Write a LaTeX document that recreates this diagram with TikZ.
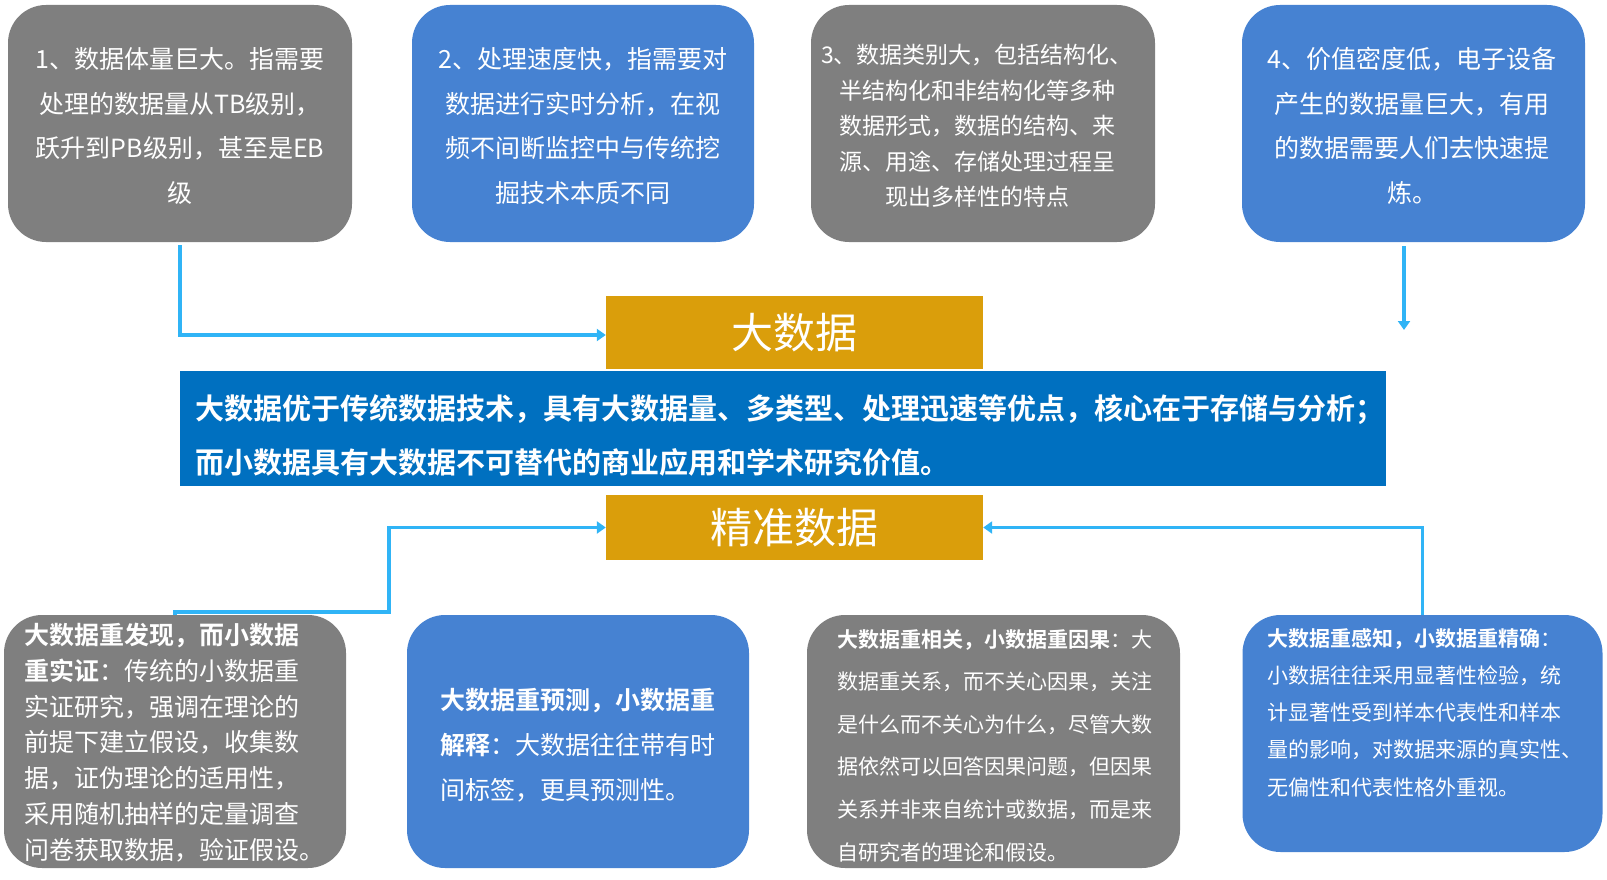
\documentclass[tikz,border=0pt]{standalone}
\usepackage{fontspec}
\setmainfont{Noto Sans CJK SC}[BoldFont={Noto Sans CJK SC Bold}]
\usetikzlibrary{arrows.meta,calc}
\definecolor{boxgray}{HTML}{7F7F7F}
\definecolor{boxblue}{HTML}{4682D2}
\definecolor{bannerblue}{HTML}{0070C0}
\definecolor{gold}{HTML}{DA9E0B}
\definecolor{arrowc}{HTML}{30B4F6}
\tikzset{
  card/.style={rounded corners=38pt, inner sep=0pt, minimum width=#1},
  graycard/.style={card=#1, fill=boxgray},
  bluecard/.style={card=#1, fill=boxblue},
  goldbox/.style={fill=gold, inner sep=0pt, minimum width=377pt, text=white, font=\fontsize{42}{50}\selectfont},
  txt/.style={text=white, inner sep=0pt},
  arr/.style={draw=arrowc, line width=3.5pt, -{Triangle[length=9pt,width=12pt]}},
}
\begin{document}
\begin{tikzpicture}[x=1pt,y=-1pt]
\useasboundingbox (0,0) rectangle (1607,880);
% top boxes
\node[graycard=344pt, minimum height=237pt] (b1) at (180,123.5) {};
\node[bluecard=342pt, minimum height=237pt] (b2) at (583,123.5) {};
\node[graycard=344pt, minimum height=237pt] (b3) at (983,123.5) {};
\node[bluecard=343pt, minimum height=237pt] (b4) at (1413.5,123.5) {};
% bottom boxes
\node[graycard=342pt, minimum height=253pt] (b5) at (175,741.5) {};
\node[bluecard=342pt, minimum height=253pt] (b6) at (578,741.5) {};
\node[graycard=373pt, minimum height=253pt] (b7) at (993.5,741.5) {};
\node[bluecard=360pt, minimum height=237pt] (b8) at (1422.5,733.5) {};
% middle
\node[goldbox, minimum height=73pt] (big) at (794.5,332.5) {大数据};
\node[fill=bannerblue, inner sep=0pt, minimum width=1206pt, minimum height=115pt] (ban) at (783,428.5) {};
\node[goldbox, minimum height=65pt] (prec) at (794.5,527.5) {精准数据};
% texts
\node[txt, font=\fontsize{25}{44.7}\selectfont, align=center] (t1) at (180,126)
  {1、数据体量巨大。指需要\\处理的数据量从TB级别，\\跃升到PB级别，甚至是EB\\级};
\node[txt, font=\fontsize{25}{44.7}\selectfont, align=center] (t2) at (583,126)
  {2、处理速度快，指需要对\\数据进行实时分析，在视\\频不间断监控中与传统挖\\掘技术本质不同};
\node[txt, font=\fontsize{23}{35.5}\selectfont, align=center] (t3) at (977,126)
  {3、数据类别大，包括结构化、\\半结构化和非结构化等多种\\数据形式，数据的结构、来\\源、用途、存储处理过程呈\\现出多样性的特点};
\node[txt, font=\fontsize{25}{44.7}\selectfont, align=center] (t4) at (1412,126)
  {4、价值密度低，电子设备\\产生的数据量巨大，有用\\的数据需要人们去快速提\\炼。};
\node[txt, font=\fontsize{29}{54}\selectfont\bfseries, align=left, anchor=west] (tb) at (195,435)
  {大数据优于传统数据技术，具有大数据量、多类型、处理迅速等优点，核心在于存储与分析；\\而小数据具有大数据不可替代的商业应用和学术研究价值。};
\node[txt, font=\fontsize{25}{35.8}\selectfont, align=left, anchor=west] (t5) at (24.5,742.5)
  {\textbf{大数据重发现，而小数据}\\\textbf{重实证}：传统的小数据重\\实证研究，强调在理论的\\前提下建立假设，收集数\\据，证伪理论的适用性，\\采用随机抽样的定量调查\\问卷获取数据，验证假设。};
\node[txt, font=\fontsize{25}{45}\selectfont, align=left, anchor=west] (t6) at (440,745)
  {\textbf{大数据重预测，小数据重}\\\textbf{解释}：大数据往往带有时\\间标签，更具预测性。};
\node[txt, font=\fontsize{21}{42.6}\selectfont, align=left, anchor=west] (t7) at (837,745.5)
  {\textbf{大数据重相关，小数据重因果}：大\\数据重关系，而不关心因果，关注\\是什么而不关心为什么，尽管大数\\据依然可以回答因果问题，但因果\\关系并非来自统计或数据，而是来\\自研究者的理论和假设。};
\node[txt, font=\fontsize{21}{37.2}\selectfont, align=left, anchor=west] (t8) at (1267,712.5)
  {\textbf{大数据重感知，小数据重精确}：\\小数据往往采用显著性检验，统\\计显著性受到样本代表性和样本\\量的影响，对数据来源的真实性、\\无偏性和代表性格外重视。};
% connectors
\coordinate (a4) at (1404,330);
\coordinate (k5) at (389,612);
\draw[arr, shorten <=3pt] (b1.south) |- ($(big.west)+(0,2.5)$);
\draw[arr, shorten <=4pt] (b4.south -| a4) -- (a4);
\draw[arr] (b5.north) -- (b5.north |- k5) -- (k5) |- (prec.west);
\draw[arr] (b8.north) |- (prec.east);
\end{tikzpicture}
\end{document}
